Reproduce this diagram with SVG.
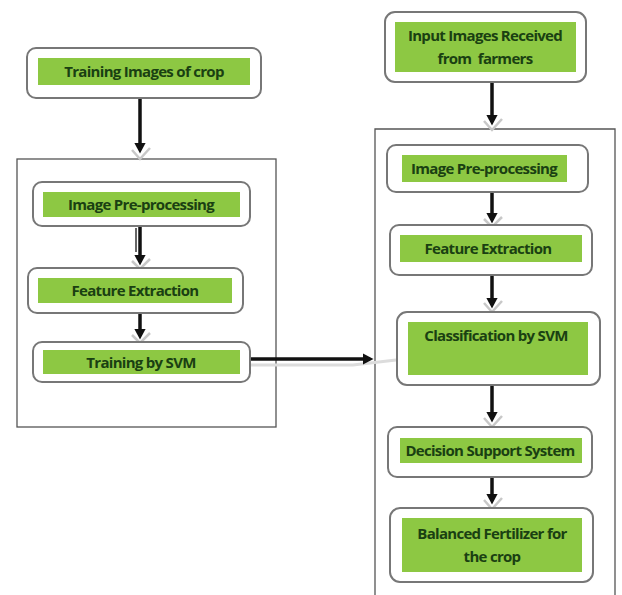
<svg xmlns="http://www.w3.org/2000/svg" width="622" height="595" viewBox="0 0 622 595">
<defs>
<style>
.frame{fill:none;stroke:#555;stroke-width:1.3}
.outer{fill:#fff;stroke:#777;stroke-width:2}
.green{fill:#8dc843}
.t{font-family:"Open Sans","Liberation Sans",sans-serif;font-weight:bold;font-size:15px;fill:#1a4012;text-anchor:middle;letter-spacing:-0.7px;white-space:pre}
.conn{stroke:#111;stroke-width:3.5;fill:none}
.chev{stroke:#c8c8c8;stroke-width:2.5;fill:none}
.shadow{stroke:#dcdcdc;stroke-width:3;fill:none}
</style>
<marker id="ah" markerWidth="4" markerHeight="4" refX="2" refY="2" orient="auto" markerUnits="strokeWidth">
<path d="M0,0.4 L3,2 L0,3.6 Z" fill="#111"/>
</marker>
</defs>
<rect width="622" height="595" fill="#fff"/>
<rect class="frame" x="17" y="159" width="259" height="268"/>
<path class="frame" d="M375,595 V129 H615 V595"/>
<g id="connectors">
<line class="conn" x1="140" y1="98" x2="140" y2="150" marker-end="url(#ah)"/>
<path class="chev" d="M132,150 L140,159 L150,148"/>
<line class="conn" x1="140" y1="226" x2="140" y2="262" marker-end="url(#ah)"/>
<line x1="136" y1="228" x2="136" y2="252" stroke="#333" stroke-width="1.5"/>
<path class="chev" d="M132,261 L140,269 L150,259"/>
<line class="conn" x1="140" y1="313" x2="140" y2="336" marker-end="url(#ah)"/>
<path class="chev" d="M132,335 L140,343 L150,333"/>
<path class="shadow" d="M251,365 H353 L396,360"/>
<line class="conn" x1="251" y1="359" x2="370" y2="359" marker-end="url(#ah)"/>
<line class="conn" x1="492" y1="83" x2="492" y2="122" marker-end="url(#ah)"/>
<path class="chev" d="M484,121 L492,130 L502,119"/>
<line class="conn" x1="492" y1="193" x2="492" y2="220" marker-end="url(#ah)"/>
<path class="chev" d="M484,219 L492,227 L502,217"/>
<line class="conn" x1="492" y1="276" x2="492" y2="305" marker-end="url(#ah)"/>
<path class="chev" d="M484,303 L492,312 L502,301"/>
<line class="conn" x1="492" y1="386" x2="492" y2="419" marker-end="url(#ah)"/>
<path class="chev" d="M484,418 L492,427 L502,416"/>
<line class="conn" x1="492" y1="478" x2="492" y2="501" marker-end="url(#ah)"/>
<path class="chev" d="M484,500 L492,509 L502,498"/>
</g>
<g id="n1">
<rect class="outer" x="27" y="48" width="234" height="50" rx="9"/>
<rect class="green" x="38" y="58" width="212" height="27"/>
<text class="t" x="144" y="77">Training Images of crop</text>
</g>
<g id="n2">
<rect class="outer" x="33" y="182" width="217" height="44" rx="9"/>
<rect class="green" x="43" y="192" width="197" height="25"/>
<text class="t" x="141" y="210">Image Pre-processing</text>
</g>
<g id="n3">
<rect class="outer" x="28" y="268" width="215" height="45" rx="9"/>
<rect class="green" x="38" y="278" width="194" height="25"/>
<text class="t" x="135" y="296">Feature Extraction</text>
</g>
<g id="n4">
<rect class="outer" x="33" y="342" width="217" height="40" rx="9"/>
<rect class="green" x="43" y="350" width="197" height="24"/>
<text class="t" x="141" y="367.5">Training by SVM</text>
</g>
<g id="r1">
<rect class="outer" x="385" y="12" width="201" height="70" rx="10"/>
<rect class="green" x="395" y="22" width="181" height="50"/>
<text class="t" x="485" y="41">Input Images Received</text>
<text class="t" x="485" y="64">from  farmers</text>
</g>
<g id="r2">
<rect class="outer" x="387" y="145" width="201" height="47" rx="9"/>
<rect class="green" x="402" y="155" width="165" height="27"/>
<text class="t" x="484" y="174">Image Pre-processing</text>
</g>
<g id="r3">
<rect class="outer" x="390" y="225" width="202" height="50" rx="9"/>
<rect class="green" x="400" y="235" width="182" height="27"/>
<text class="t" x="488" y="254">Feature Extraction</text>
</g>
<g id="r4">
<rect class="outer" x="397" y="312" width="203" height="73" rx="10"/>
<rect class="green" x="408" y="322" width="180" height="53"/>
<text class="t" x="496" y="341">Classification by SVM</text>
</g>
<g id="r5">
<rect class="outer" x="388" y="427" width="204" height="50" rx="9"/>
<rect class="green" x="400" y="438" width="182" height="25"/>
<text class="t" x="490" y="456" letter-spacing="-1.1px">Decision Support System</text>
</g>
<g id="r6">
<rect class="outer" x="390" y="508" width="203" height="74" rx="10"/>
<rect class="green" x="402" y="518" width="180" height="54"/>
<text class="t" x="492" y="539">Balanced Fertilizer for</text>
<text class="t" x="492" y="562">the crop</text>
</g>
</svg>
